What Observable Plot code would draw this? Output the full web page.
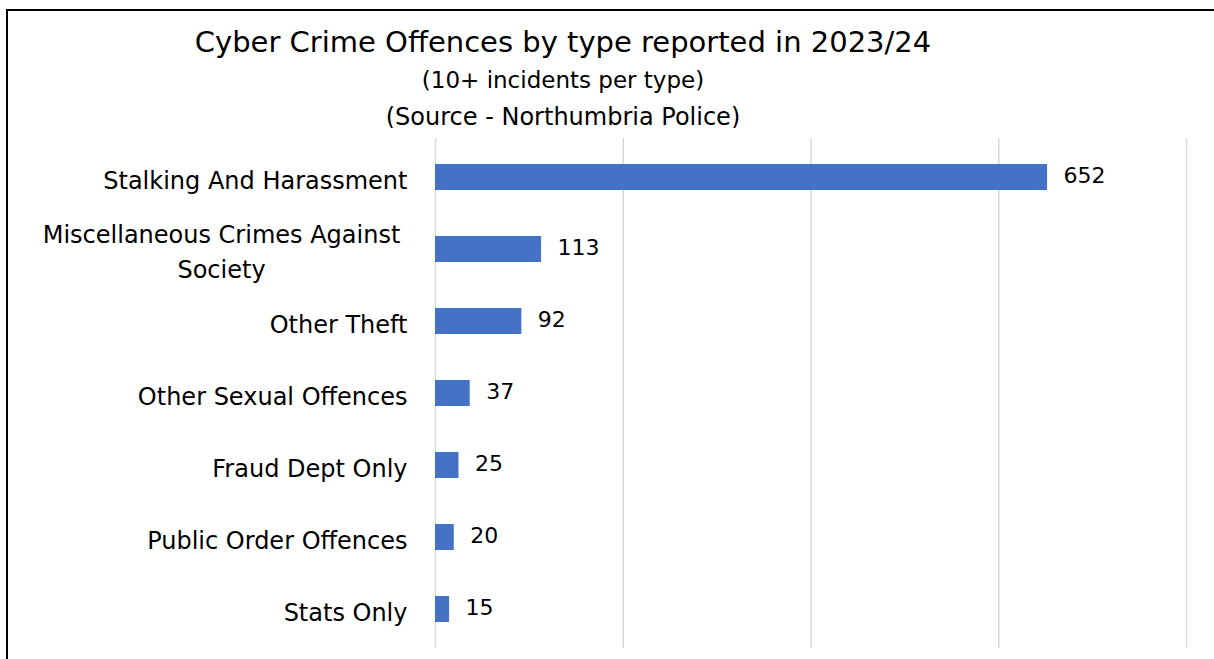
<!DOCTYPE html>
<html><head><meta charset="utf-8">
<script src="https://cdn.jsdelivr.net/npm/d3@7"></script>
<script src="https://cdn.jsdelivr.net/npm/@observablehq/plot@0.6"></script>
<style>
html,body{margin:0;padding:0;background:#fff;overflow:hidden;font-family:"DejaVu Sans",sans-serif;}
#frame{position:absolute;left:6px;top:9px;width:1400px;height:900px;border:2px solid #000;pointer-events:none;}
#header{position:relative;height:128px;width:1214px;}
.t{position:absolute;left:0;width:1126px;text-align:center;color:#000;white-space:nowrap;}
#chart{position:absolute;top:128px;left:0;}
</style></head>
<body>
<div id="header">
  <div class="t" style="top:25px;font-size:29px;line-height:34px">Cyber Crime Offences by type reported in 2023/24</div>
  <div class="t" style="top:65px;font-size:23px;line-height:30px">(10+ incidents per type)</div>
  <div class="t" style="top:102px;font-size:24px;line-height:30px">(Source - Northumbria Police)</div>
</div>
<div id="chart"></div>
<div id="frame"></div>
<script>
const categories = ["Stalking And Harassment","Miscellaneous Crimes Against Society","Other Theft","Other Sexual Offences","Fraud Dept Only","Public Order Offences","Stats Only"];
const counts = [652,113,92,37,25,20,15];
const xTicks = [0,200,400,600,800];
const wrapped = "Miscellaneous Crimes Against Society";
const data = categories.map((c,i)=>({type:c,count:counts[i]}));

const chart = Plot.plot({
  width:1214, height:531,
  marginTop:10, marginBottom:11, marginLeft:435, marginRight:28,
  style:{fontFamily:"'DejaVu Sans', sans-serif", fontSize:"24px", color:"#000", background:"transparent"},
  x:{domain:[0,800], axis:null},
  y:{domain:categories, paddingInner:0.644, paddingOuter:0.322, axis:null},
  marks:[
    Plot.gridX(xTicks,{stroke:"#d9d9d9", strokeOpacity:1, strokeWidth:1.5}),
    Plot.barX(data,{x:"count", y:"type", fill:"#4472C4"}),
    Plot.text(data,{x:"count", y:"type", text:d=>String(d.count), textAnchor:"start", dx:16, dy:-2, fontSize:22, fill:"#000"}),
    Plot.axisY(categories.filter(c=>c!==wrapped),{tickSize:0, tickPadding:28, fontSize:24, dy:4, fill:"#000", label:null}),
    Plot.axisY([wrapped],{tickSize:0, tickPadding:214, textAnchor:"middle", fontSize:24, dy:0, lineHeight:1.46, fill:"#000", label:null,
      tickFormat:()=>"Miscellaneous Crimes Against\nSociety"})
  ]
});
document.getElementById("chart").appendChild(chart);
</script>
</body></html>
